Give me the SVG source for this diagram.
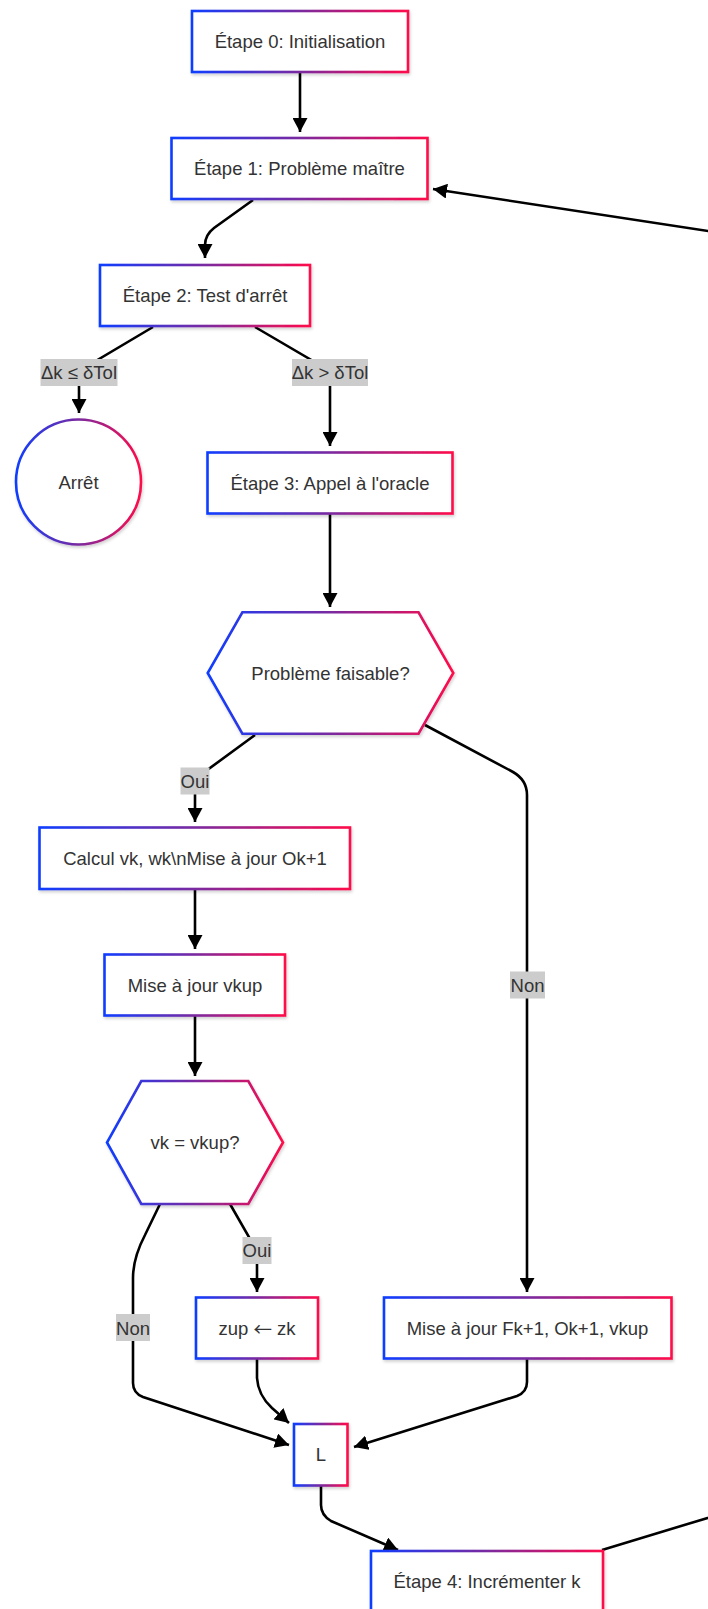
<svg xmlns="http://www.w3.org/2000/svg" width="708" height="1609" viewBox="0 0 708 1609">
<defs>
<linearGradient id="g" x1="0" y1="0" x2="1" y2="0">
<stop offset="0" stop-color="#0f3dff"/>
<stop offset="0.5" stop-color="#7a2aa0"/>
<stop offset="1" stop-color="#ff0a4a"/>
</linearGradient>
<filter id="sh" x="-10%" y="-10%" width="130%" height="130%">
<feDropShadow dx="1" dy="2" stdDeviation="1.5" flood-color="#000" flood-opacity="0.18"/>
</filter>
<marker id="arr" markerUnits="userSpaceOnUse" markerWidth="15" markerHeight="15" refX="14" refY="7.5" orient="auto">
<path d="M0,0 L14,7.5 L0,15 z" fill="#000"/>
</marker>
</defs>
<style>
.n{fill:#fff;stroke:url(#g);stroke-width:2.6;filter:url(#sh)}
.t{font-family:"Liberation Sans",Arial,sans-serif;font-size:18.5px;fill:#333;text-anchor:middle;dominant-baseline:central}
.ar{font-family:"Noto Sans CJK SC","Liberation Sans",sans-serif}
.e{fill:none;stroke:#000;stroke-width:2.6}
.ea{fill:none;stroke:#000;stroke-width:2.6;marker-end:url(#arr)}
.lb{fill:#cccccc}
</style>
<g id="connectors">
<path class="ea" d="M300,72 L300,132"/>
<path class="ea" d="M253,200 L214,228 Q205,235 205,245 L205,258"/>
<path class="ea" d="M153,327 L79,371 L79,413"/>
<path class="ea" d="M255,327 L330,371 L330,446"/>
<path class="ea" d="M330,513 L330,607"/>
<path class="ea" d="M255,735 L195,779 L195,822"/>
<path class="ea" d="M425,725 L513,772 Q527,780 527,795 L527,1292"/>
<path class="ea" d="M195,889 L195,949"/>
<path class="ea" d="M195,1016 L195,1076"/>
<path class="ea" d="M230,1204 L257,1251 L257,1292"/>
<path class="ea" d="M160,1204 L145,1235 Q133,1258 133,1278 L133,1383 Q133,1393 143,1397 L289,1445"/>
<path class="ea" d="M257,1359 L257,1378 Q258,1395 272,1408 L289,1423"/>
<path class="ea" d="M527,1359 L527,1382 Q527,1392 517,1396 L354,1447"/>
<path class="ea" d="M321,1486 L321,1505 Q321,1515 331,1521 L398,1550"/>
<path class="ea" d="M602,1550 L760,1502 L760,239 L433,189"/>
<g id="labels">
<rect class="lb" x="40.5" y="359" width="77" height="27"/>
<text class="t" x="79" y="372.5">Δk ≤ δTol</text>
<rect class="lb" x="292" y="359" width="76" height="27"/>
<text class="t" x="330" y="372.5">Δk &gt; δTol</text>
<rect class="lb" x="180.5" y="767.5" width="29" height="27"/>
<text class="t" x="195" y="781">Oui</text>
<rect class="lb" x="510" y="971.5" width="35" height="27"/>
<text class="t" x="527.5" y="985">Non</text>
<rect class="lb" x="242.5" y="1237" width="29" height="27"/>
<text class="t" x="257" y="1250.5">Oui</text>
<rect class="lb" x="116" y="1314" width="34" height="27"/>
<text class="t" x="133" y="1328">Non</text>
</g>
</g>
<g id="n0"><rect class="n" x="192" y="11" width="216" height="61"/><text class="t" x="300" y="41.5">Étape 0: Initialisation</text></g>
<g id="n1"><rect class="n" x="171.5" y="138" width="256" height="61"/><text class="t" x="299.5" y="168.5">Étape 1: Problème maître</text></g>
<g id="n2"><rect class="n" x="100" y="265" width="210" height="61"/><text class="t" x="205" y="295.5">Étape 2: Test d'arrêt</text></g>
<g id="stop"><circle class="n" cx="78.5" cy="482" r="62.5"/><text class="t" x="78.5" y="482">Arrêt</text></g>
<g id="n3"><rect class="n" x="207.5" y="452.5" width="245" height="61"/><text class="t" x="330" y="483">Étape 3: Appel à l'oracle</text></g>
<g id="d1"><polygon class="n" points="242.4,612.3 418.5,612.3 453.3,673 418.5,733.7 242.4,733.7 207.7,673"/><text class="t" x="330.5" y="673">Problème faisable?</text></g>
<g id="calc"><rect class="n" x="39.5" y="827.5" width="310.5" height="61.5"/><text class="t" x="195" y="858">Calcul vk, wk\nMise à jour Ok+1</text></g>
<g id="vkup"><rect class="n" x="104.5" y="954.5" width="180.5" height="61"/><text class="t" x="195" y="985">Mise à jour vkup</text></g>
<g id="d2"><polygon class="n" points="141.3,1081 248.3,1081 283,1142.5 248.3,1204 141.3,1204 107,1142.5"/><text class="t" x="195" y="1142.5">vk = vkup?</text></g>
<g id="zup"><rect class="n" x="196" y="1297.5" width="122" height="61"/><text class="t" x="257" y="1328">zup <tspan class="ar">←</tspan> zk</text></g>
<g id="maj"><rect class="n" x="384" y="1297.5" width="287.5" height="61"/><text class="t" x="527.5" y="1328">Mise à jour Fk+1, Ok+1, vkup</text></g>
<g id="L"><rect class="n" x="294" y="1424" width="53.5" height="61.5"/><text class="t" x="321" y="1454.5">L</text></g>
<g id="n4"><rect class="n" x="371" y="1551" width="232" height="61"/><text class="t" x="487" y="1581.5">Étape 4: Incrémenter k</text></g>
</svg>
